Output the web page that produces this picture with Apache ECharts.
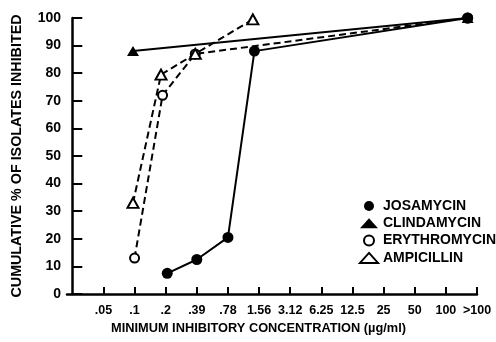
<!DOCTYPE html>
<html>
<head>
<meta charset="utf-8">
<script src="https://cdn.jsdelivr.net/npm/echarts@6/dist/echarts.min.js"></script>
<style>
  html, body { margin: 0; padding: 0; background: #fff; }
  #chart { width: 496px; height: 342px; }
</style>
</head>
<body>
<div id="chart"></div>
<script>
// Concentration steps (µg/ml) shown along the x axis; x positions are step indices (1 = .05)
const concLabels = ['.05', '.1', '.2', '.39', '.78', '1.56', '3.12', '6.25', '12.5', '25', '50', '100', '>100'];
const yTicks = [0, 10, 20, 30, 40, 50, 60, 70, 80, 90, 100];

// [step index, cumulative % of isolates inhibited]
const josamycin    = [[3.05, 7.5], [4.0, 12.5], [5.0, 20.5], [5.85, 88], [12.7, 100]];
const clindamycin  = [[1.95, 88], [12.7, 100]];
const erythromycin = [[2.0, 13], [2.9, 72], [3.95, 87], [12.7, 100]];
const ampicillin   = [[1.95, 33], [2.85, 79.5], [3.95, 87], [5.8, 99.5]];

const font = "'Liberation Sans', Arial, sans-serif";
const ink = '#000';

const tickPositions = concLabels.map((_, i) => i + 1);

const chart = echarts.init(document.getElementById('chart'), null, { renderer: 'canvas' });

chart.setOption({
  animation: false,
  backgroundColor: '#fff',
  grid: { left: 67, right: 19, top: 18, bottom: 48, containLabel: false, outerBoundsMode: 'none' },
  xAxis: {
    type: 'value',
    min: -0.17,
    max: 13,
    name: 'MINIMUM INHIBITORY CONCENTRATION (µg/ml)',
    nameLocation: 'middle',
    nameGap: 27,
    nameTextStyle: { fontFamily: font, fontWeight: 'bold', fontSize: 12.8, color: ink, padding: [0, 27, 0, 0] },
    axisLine: { show: true, onZero: false, lineStyle: { color: ink, width: 2.5 } },
    axisTick: { show: true, inside: true, length: 7, customValues: tickPositions, lineStyle: { color: ink, width: 2 } },
    axisLabel: {
      customValues: tickPositions,
      showMaxLabel: true,
      showMinLabel: true,
      hideOverlap: false,
      formatter: v => concLabels[Math.round(v) - 1] || '',
      fontFamily: font, fontWeight: 'bold', fontSize: 12.5, color: ink, margin: 10
    },
    splitLine: { show: false }
  },
  yAxis: {
    type: 'value',
    min: 0,
    max: 100,
    interval: 10,
    name: 'CUMULATIVE % OF ISOLATES INHIBITED',
    nameLocation: 'middle',
    nameGap: 43,
    nameTextStyle: { fontFamily: font, fontWeight: 'bold', fontSize: 14.3, color: ink },
    axisLine: { show: true, lineStyle: { color: ink, width: 2.5 } },
    axisTick: { show: true, inside: true, length: 10, lineStyle: { color: ink, width: 2 } },
    axisLabel: {
      formatter: v => (yTicks.indexOf(v) >= 0 ? String(v) : ''),
      fontFamily: font, fontWeight: 'bold', fontSize: 14, color: ink, margin: 6
    },
    splitLine: { show: false }
  },
  legend: {
    orient: 'vertical',
    left: 354,
    top: 194,
    itemWidth: 18,
    itemHeight: 10,
    itemGap: 3.3,
    textStyle: { fontFamily: font, fontWeight: 'bold', fontSize: 14, color: ink, lineHeight: 10 },
    data: [
      { name: 'JOSAMYCIN', icon: 'circle', itemStyle: { color: ink, borderWidth: 0 } },
      { name: 'CLINDAMYCIN', icon: 'triangle', itemStyle: { color: ink, borderWidth: 0 } },
      { name: 'ERYTHROMYCIN', icon: 'circle', itemStyle: { color: '#fff', borderColor: ink, borderWidth: 2 } },
      { name: 'AMPICILLIN', icon: 'triangle', itemStyle: { color: '#fff', borderColor: ink, borderWidth: 2 } }
    ]
  },
  series: [
    {
      name: 'ERYTHROMYCIN', type: 'line', data: erythromycin,
      symbol: 'circle', symbolSize: 9,
      lineStyle: { color: ink, width: 2, type: [7, 4] },
      itemStyle: { color: '#fff', borderColor: ink, borderWidth: 2 },
      z: 2
    },
    {
      name: 'AMPICILLIN', type: 'line', data: ampicillin,
      symbol: 'triangle', symbolSize: [11, 10],
      lineStyle: { color: ink, width: 2, type: [7, 4] },
      itemStyle: { color: '#fff', borderColor: ink, borderWidth: 2 },
      z: 3
    },
    {
      name: 'CLINDAMYCIN', type: 'line', data: clindamycin,
      symbol: 'triangle', symbolSize: [12, 10],
      lineStyle: { color: ink, width: 2 },
      itemStyle: { color: ink, borderWidth: 0 },
      z: 4
    },
    {
      name: 'JOSAMYCIN', type: 'line', data: josamycin,
      symbol: 'circle', symbolSize: 11,
      lineStyle: { color: ink, width: 2 },
      itemStyle: { color: ink, borderWidth: 0 },
      z: 5
    }
  ]
});
</script>
</body>
</html>
